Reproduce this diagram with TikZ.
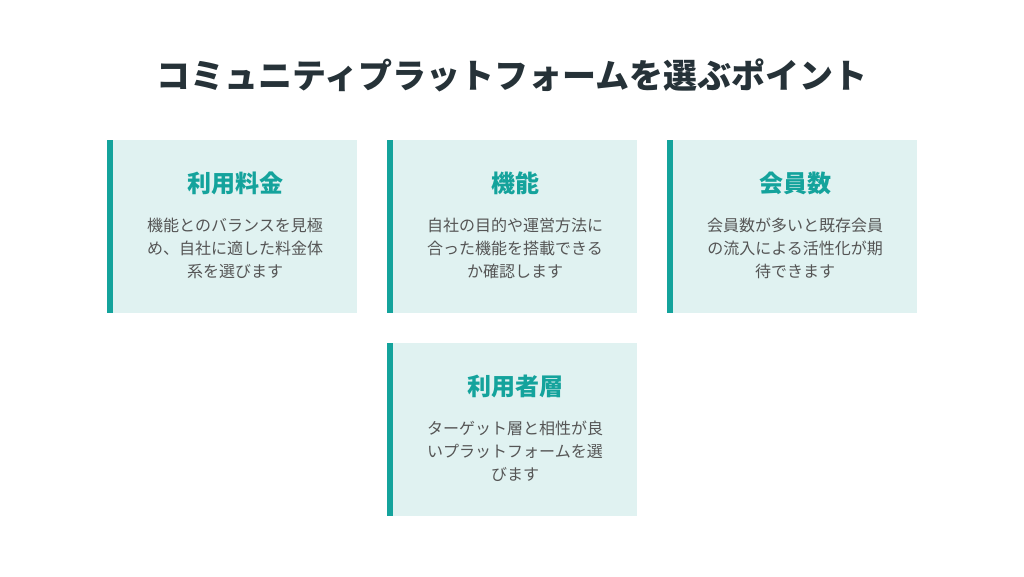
\documentclass[tikz,border=0pt]{standalone}
\usepackage{fontspec}
\setmainfont{Noto Sans CJK JP}
\definecolor{tealbar}{HTML}{14A39C}
\definecolor{cardbg}{HTML}{E0F2F1}
\definecolor{titletxt}{HTML}{263238}
\definecolor{bodytxt}{HTML}{555555}
\tikzset{
  card/.style={fill=cardbg,draw=none},
  cardbar/.style={fill=tealbar,draw=none},
  head/.style={text=tealbar,font=\fontsize{24}{28}\selectfont\bfseries,inner sep=0pt},
  body/.style={text=bodytxt,font=\fontsize{16}{23}\selectfont,align=center,inner sep=0pt}
}
\begin{document}
\begin{tikzpicture}[x=1pt,y=-1pt]
\useasboundingbox(0,0)rectangle(1024,576);
\node[text=titletxt,font=\fontsize{34}{40}\selectfont\bfseries,inner sep=0pt](title)at(512,75){コミュニティプラットフォームを選ぶポイント};
\foreach \x/\y/\nm/\hd/\bd in {
  107/140/fee/利用料金/{機能とのバランスを見極\\め、自社に適した料金体\\系を選びます},
  387/140/func/機能/{自社の目的や運営方法に\\合った機能を搭載できる\\か確認します},
  667/140/member/会員数/{会員数が多いと既存会員\\の流入による活性化が期\\待できます},
  387/343/users/利用者層/{ターゲット層と相性が良\\いプラットフォームを選\\びます}}{
  \fill[card](\x,\y)rectangle++(250,173);
  \fill[cardbar](\x,\y)rectangle++(6,173);
  \node[head](\nm-head)at(\x+128,\y+43){\hd};
  \node[body](\nm-body)at(\x+128,\y+108){\bd};
}
\end{tikzpicture}
\end{document}
